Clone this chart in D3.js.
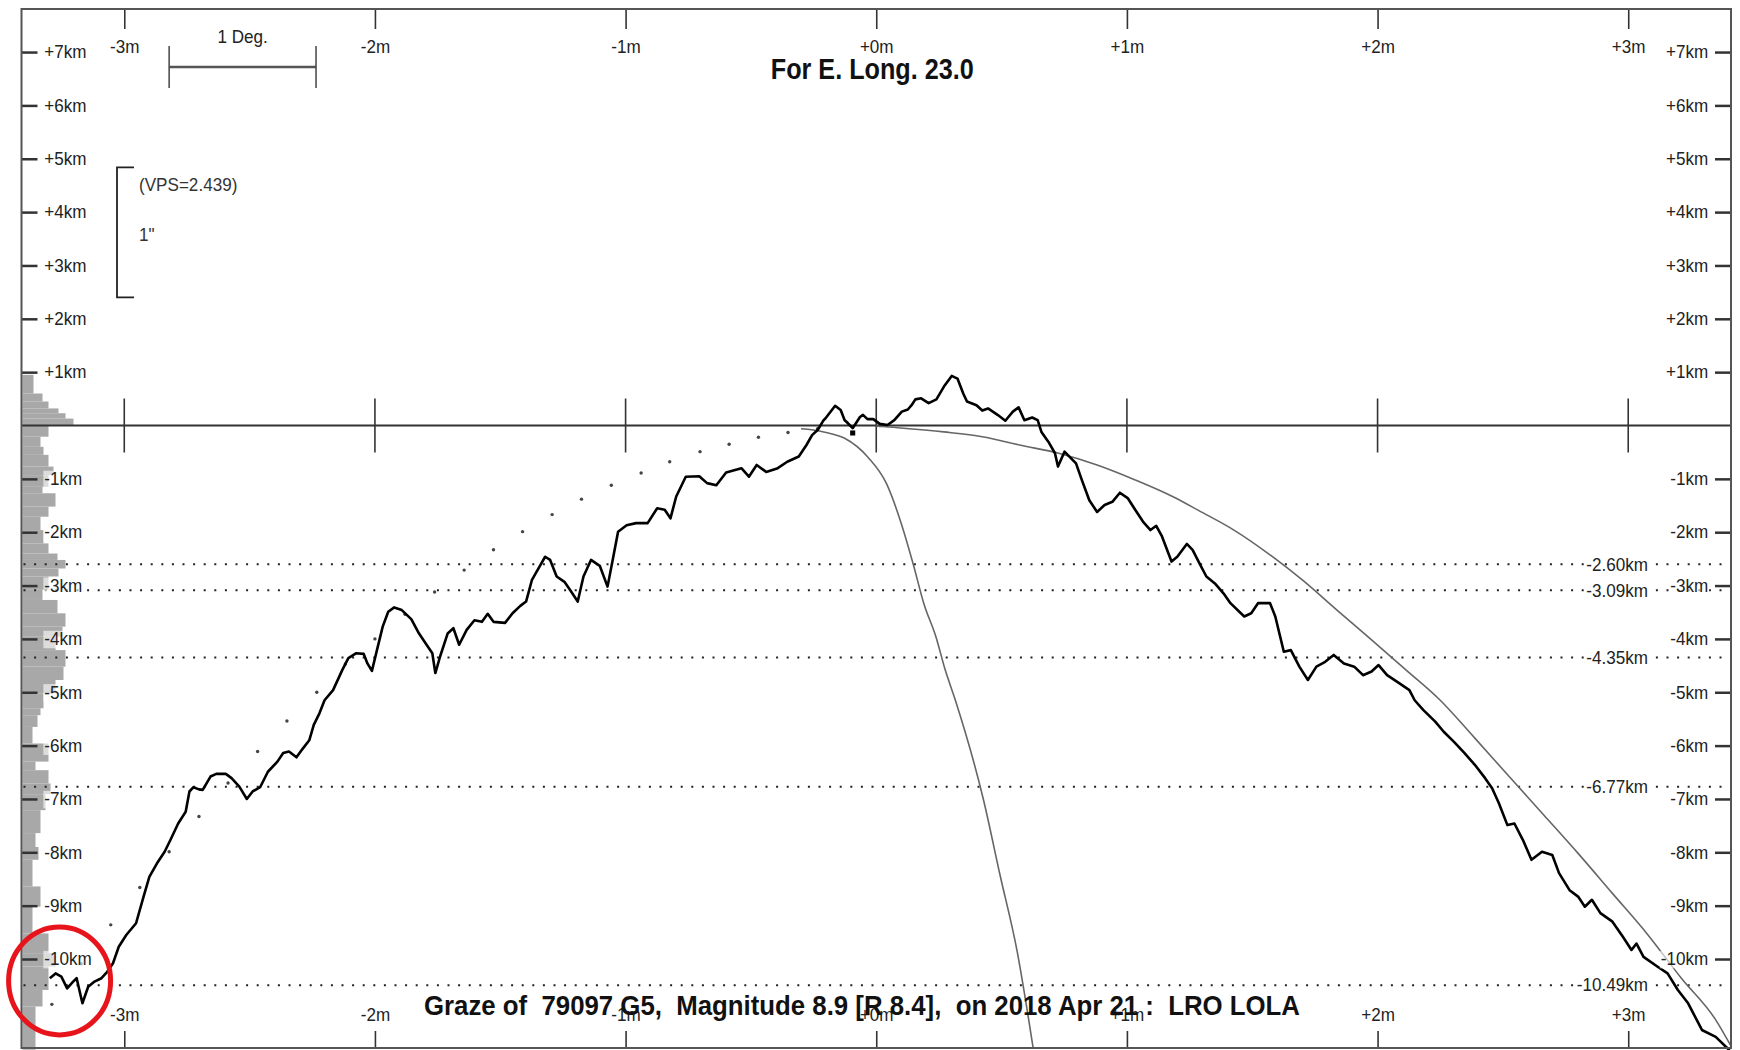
<!DOCTYPE html>
<html>
<head>
<meta charset="utf-8">
<script src="https://cdnjs.cloudflare.com/ajax/libs/d3/7.8.5/d3.min.js"></script>
<style>
  html, body { margin: 0; padding: 0; background: #fff; }
  svg { display: block; font-family: "Liberation Sans", Arial, sans-serif; }
  text { white-space: pre; }
</style>
</head>
<body>
<div id="graph"></div>
<script>
"use strict";

// x = minutes from central time, y = km relative to the mean limb

// LRO LOLA limb profile (black line)
var profile = [
    [-3.297,-10.36],[-3.274,-10.27],[-3.251,-10.33],[-3.228,-10.55],[-3.205,-10.43],[-3.190,-10.36],[-3.167,-10.83],
    [-3.144,-10.52],[-3.121,-10.43],[-3.091,-10.36],[-3.068,-10.24],[-3.045,-10.08],[-3.022,-9.77],[-2.992,-9.55],
    [-2.953,-9.33],[-2.923,-8.83],[-2.900,-8.46],[-2.870,-8.21],[-2.839,-7.99],[-2.816,-7.77],[-2.785,-7.46],
    [-2.755,-7.24],[-2.740,-6.86],[-2.724,-6.78],[-2.702,-6.82],[-2.687,-6.83],[-2.656,-6.58],[-2.633,-6.53],
    [-2.595,-6.53],[-2.572,-6.61],[-2.541,-6.77],[-2.511,-7.00],[-2.488,-6.86],[-2.458,-6.78],[-2.427,-6.49],
    [-2.389,-6.30],[-2.366,-6.14],[-2.343,-6.11],[-2.313,-6.22],[-2.290,-6.07],[-2.262,-5.90],[-2.244,-5.61],
    [-2.221,-5.39],[-2.201,-5.15],[-2.167,-4.96],[-2.130,-4.58],[-2.106,-4.36],[-2.076,-4.27],[-2.045,-4.28],
    [-2.030,-4.46],[-2.012,-4.60],[-1.992,-4.21],[-1.969,-3.77],[-1.947,-3.49],[-1.923,-3.41],[-1.893,-3.46],
    [-1.855,-3.63],[-1.824,-3.90],[-1.794,-4.11],[-1.771,-4.27],[-1.759,-4.64],[-1.740,-4.33],[-1.710,-3.90],
    [-1.687,-3.80],[-1.664,-4.11],[-1.634,-3.83],[-1.603,-3.65],[-1.573,-3.68],[-1.550,-3.53],[-1.527,-3.68],
    [-1.481,-3.70],[-1.451,-3.52],[-1.420,-3.38],[-1.397,-3.30],[-1.374,-2.90],[-1.344,-2.65],[-1.321,-2.46],
    [-1.301,-2.52],[-1.275,-2.83],[-1.244,-2.93],[-1.222,-3.08],[-1.191,-3.30],[-1.168,-2.83],[-1.138,-2.52],
    [-1.103,-2.63],[-1.072,-3.02],[-1.049,-2.46],[-1.030,-1.99],[-0.996,-1.87],[-0.958,-1.83],[-0.912,-1.83],
    [-0.874,-1.55],[-0.844,-1.58],[-0.821,-1.74],[-0.798,-1.33],[-0.760,-0.96],[-0.706,-0.95],[-0.675,-1.08],
    [-0.638,-1.12],[-0.599,-0.88],[-0.538,-0.80],[-0.508,-0.96],[-0.477,-0.74],[-0.439,-0.87],[-0.393,-0.80],
    [-0.355,-0.68],[-0.309,-0.58],[-0.279,-0.37],[-0.256,-0.18],[-0.233,-0.08],[-0.210,0.10],[-0.203,0.13],
    [-0.164,0.37],[-0.142,0.29],[-0.126,0.10],[-0.119,0.07],[-0.094,-0.05],[-0.065,0.16],[-0.053,0.20],
    [-0.035,0.12],[-0.012,0.12],[0.014,0.03],[0.045,0.01],[0.072,0.10],[0.102,0.26],[0.126,0.30],[0.141,0.38],
    [0.156,0.49],[0.179,0.51],[0.209,0.42],[0.240,0.49],[0.270,0.73],[0.301,0.93],[0.324,0.88],[0.347,0.60],
    [0.362,0.45],[0.400,0.38],[0.423,0.28],[0.446,0.32],[0.484,0.20],[0.515,0.09],[0.545,0.26],[0.568,0.34],
    [0.591,0.10],[0.622,0.15],[0.644,0.10],[0.659,-0.12],[0.690,-0.33],[0.713,-0.52],[0.725,-0.77],[0.751,-0.49],
    [0.797,-0.71],[0.820,-1.02],[0.850,-1.40],[0.881,-1.62],[0.911,-1.49],[0.942,-1.43],[0.972,-1.26],
    [1.003,-1.36],[1.033,-1.58],[1.064,-1.80],[1.094,-1.96],[1.117,-1.88],[1.140,-2.08],[1.178,-2.55],
    [1.201,-2.46],[1.239,-2.22],[1.262,-2.33],[1.289,-2.58],[1.317,-2.83],[1.351,-2.96],[1.386,-3.15],
    [1.413,-3.33],[1.468,-3.58],[1.496,-3.52],[1.523,-3.33],[1.571,-3.33],[1.592,-3.58],[1.626,-4.24],
    [1.654,-4.21],[1.688,-4.52],[1.722,-4.77],[1.756,-4.52],[1.791,-4.43],[1.825,-4.30],[1.866,-4.46],
    [1.907,-4.52],[1.942,-4.68],[1.976,-4.61],[2.004,-4.49],[2.038,-4.68],[2.086,-4.83],[2.127,-4.96],
    [2.148,-5.15],[2.182,-5.33],[2.230,-5.55],[2.264,-5.74],[2.305,-5.93],[2.347,-6.14],[2.388,-6.36],
    [2.429,-6.61],[2.457,-6.80],[2.484,-7.08],[2.518,-7.49],[2.546,-7.46],[2.580,-7.77],[2.614,-8.14],
    [2.656,-7.99],[2.697,-8.05],[2.724,-8.39],[2.766,-8.71],[2.800,-8.83],[2.827,-9.02],[2.855,-8.89],
    [2.889,-9.14],[2.937,-9.30],[2.978,-9.58],[3.013,-9.83],[3.033,-9.71],[3.061,-9.96],[3.116,-10.14],
    [3.157,-10.27],[3.198,-10.58],[3.239,-10.83],[3.294,-11.33],[3.349,-11.46],[3.404,-11.71]
];

// sparse dotted profile (grey points)
var dotProfile = [
    [-3.289,-10.85],[-3.172,-10.09],[-3.054,-9.36],[-2.938,-8.66],[-2.821,-7.99],[-2.702,-7.33],[-2.586,-6.70],
    [-2.468,-6.11],[-2.351,-5.54],[-2.232,-5.00],[-2.118,-4.47],[-2.000,-4.00],[-1.880,-3.54],[-1.762,-3.12],
    [-1.644,-2.71],[-1.527,-2.33],[-1.411,-1.99],[-1.293,-1.67],[-1.176,-1.38],[-1.057,-1.12],[-0.938,-0.89],
    [-0.824,-0.68],[-0.703,-0.49],[-0.587,-0.35],[-0.470,-0.22],[-0.352,-0.13],[-0.234,-0.06]
];

// thin grey curves
var curveSteep = [
    [-0.300,-0.06],[-0.257,-0.08],[-0.200,-0.13],[-0.126,-0.24],[-0.034,-0.59],[0.041,-1.09],[0.100,-1.84],
    [0.147,-2.59],[0.190,-3.34],[0.238,-3.96],[0.275,-4.58],[0.315,-5.14],[0.428,-7.02],[0.494,-8.43],
    [0.561,-9.83],[0.626,-11.67]
];
var curveGentle = [
    [0.000,-0.01],[0.026,-0.02],[0.270,-0.12],[0.423,-0.21],[0.576,-0.37],[0.728,-0.52],[0.881,-0.74],
    [1.033,-1.02],[1.186,-1.34],[1.289,-1.60],[1.427,-1.96],[1.564,-2.40],[1.701,-2.90],[1.838,-3.46],
    [1.976,-4.02],[2.113,-4.58],[2.250,-5.15],[2.388,-5.86],[2.525,-6.58],[2.663,-7.30],[2.800,-8.02],
    [2.937,-8.77],[3.074,-9.52],[3.212,-10.36],[3.349,-11.14],[3.411,-11.64]
];

var starMarker = [[-0.094, -0.14]];

// height histogram on the left edge: [top km, bottom km, count]
var histBins = [
    [0.95,0.60,11],[0.60,0.45,20],[0.45,0.32,26],[0.32,0.23,36],[0.23,0.13,43],[0.13,0.00,51],
    [0.00,-0.21,26],[-0.21,-0.40,18],[-0.40,-0.55,21],[-0.55,-0.77,26],[-0.77,-0.93,31],[-0.93,-1.15,26],
    [-1.15,-1.27,20],[-1.27,-1.52,33],[-1.52,-1.71,26],[-1.71,-1.96,18],[-1.96,-2.21,21],[-2.21,-2.40,26],
    [-2.40,-2.52,35],[-2.52,-2.68,43],[-2.68,-2.83,36],[-2.83,-3.08,26],[-3.08,-3.27,20],[-3.27,-3.52,35],
    [-3.52,-3.77,43],[-3.77,-3.96,40],[-3.96,-4.21,33],[-4.21,-4.52,43],[-4.52,-4.77,41],[-4.77,-5.02,33],
    [-5.02,-5.30,21],[-5.30,-5.43,18],[-5.43,-5.65,15],[-5.65,-5.96,10],[-5.96,-6.30,26],[-6.30,-6.46,13],
    [-6.46,-6.71,26],[-6.71,-6.91,28],[-6.91,-7.21,23],[-7.21,-7.64,18],[-7.64,-7.90,13],[-7.90,-8.14,16],
    [-8.14,-8.64,10],[-8.64,-9.02,18],[-9.02,-9.52,10],[-9.52,-9.89,26],[-9.89,-10.14,33],[-10.14,-10.58,26],
    [-10.58,-10.89,20],[-10.89,-11.70,13]
];

var limitLines = [-2.60, -3.09, -4.35, -6.77, -10.49];
var minuteTicks = [-3, -2, -1, 0, 1, 2, 3];
var kmTicks = [7, 6, 5, 4, 3, 2, 1, -1, -2, -3, -4, -5, -6, -7, -8, -9, -10];

var degreeBar = [-2.821, -2.235];
var vps = 2.439;
var vpsTop = 4.84;
var highlight = [-3.258, -10.41];

var titleTop = "For E. Long. 23.0";
var titleBottom = "Graze of  79097 G5,  Magnitude 8.9 [R 8.4],  on 2018 Apr 21 :  LRO LOLA";

var width = 1740, height = 1050;
var frame = {left: 21.5, top: 9, right: 1731, bottom: 1048};

var x = d3.scaleLinear().domain([-3.41, 3.41]).range([frame.left, frame.right]);
var y = d3.scaleLinear().domain([7.807, -11.668]).range([frame.top, frame.bottom]);
var hx = d3.scaleLinear().domain([0, 100]).range([frame.left + 1, frame.left + 101]);

var svg = d3.select("#graph").append("svg")
    .attr("width", width)
    .attr("height", height);

svg.append("rect").attr("width", width).attr("height", height).attr("fill", "#fff");

// histogram
svg.append("g").selectAll("rect")
    .data(histBins)
    .enter().append("rect")
    .attr("x", hx(0))
    .attr("y", function (d) { return y(d[0]); })
    .attr("width", function (d) { return hx(d[2]) - hx(0); })
    .attr("height", function (d) { return y(d[1]) - y(d[0]); })
    .attr("fill", "#a8a8a8");

// dotted limit lines
svg.append("g").selectAll("line")
    .data(limitLines)
    .enter().append("line")
    .attr("x1", frame.left + 2).attr("x2", frame.right - 2)
    .attr("y1", function (d) { return y(d); })
    .attr("y2", function (d) { return y(d); })
    .attr("stroke", "#222")
    .attr("stroke-width", 2)
    .attr("stroke-dasharray", "2,8.6");

// zero line and minute ticks across it
svg.append("line")
    .attr("x1", frame.left).attr("x2", frame.right)
    .attr("y1", y(0)).attr("y2", y(0))
    .attr("stroke", "#333").attr("stroke-width", 2.2);

svg.append("g").selectAll("line")
    .data(minuteTicks)
    .enter().append("line")
    .attr("x1", function (d) { return x(d); })
    .attr("x2", function (d) { return x(d); })
    .attr("y1", y(0) - 27).attr("y2", y(0) + 27)
    .attr("stroke", "#333").attr("stroke-width", 1.6);

var line = d3.line()
    .x(function (d) { return x(d[0]); })
    .y(function (d) { return y(d[1]); });

var smooth = d3.line()
    .x(function (d) { return x(d[0]); })
    .y(function (d) { return y(d[1]); })
    .curve(d3.curveMonotoneX);

svg.append("path").datum(curveSteep)
    .attr("d", smooth).attr("fill", "none")
    .attr("stroke", "#666").attr("stroke-width", 1.6);

svg.append("path").datum(curveGentle)
    .attr("d", smooth).attr("fill", "none")
    .attr("stroke", "#666").attr("stroke-width", 1.6);

svg.append("g").selectAll("circle")
    .data(dotProfile)
    .enter().append("circle")
    .attr("cx", function (d) { return x(d[0]); })
    .attr("cy", function (d) { return y(d[1]); })
    .attr("r", 1.7)
    .attr("fill", "#444");

svg.append("path").datum(profile)
    .attr("d", line).attr("fill", "none")
    .attr("stroke", "#000").attr("stroke-width", 2.6)
    .attr("stroke-linejoin", "round");

svg.append("g").selectAll("path")
    .data(starMarker)
    .enter().append("path")
    .attr("d", d3.symbol().type(d3.symbolSquare).size(26))
    .attr("transform", function (d) { return "translate(" + x(d[0]) + "," + y(d[1]) + ")"; })
    .attr("fill", "#000");

// axes
function addTextBg(sel, opacity) {
    sel.each(function () {
        var node = this, b = node.getBBox();
        d3.select(node.parentNode).insert("rect", function () { return node; })
            .attr("x", b.x - 1).attr("y", b.y + 2)
            .attr("width", b.width + 2).attr("height", b.height - 3)
            .attr("transform", d3.select(node).attr("transform"))
            .attr("fill", "#fff").attr("fill-opacity", opacity);
    });
}

function axisStyle(g) {
    g.select(".domain").remove();
    g.attr("font-family", null).attr("font-size", null);
    g.selectAll(".tick line").attr("stroke", "#333").attr("stroke-width", 1.6);
    g.selectAll(".tick text")
        .attr("fill", "#222")
        .attr("font-size", 18)
        .attr("transform", "scale(0.95,1)");
}

var fmtKm = function (d) { return (d > 0 ? "+" : "") + d + "km"; };
var fmtMin = function (d) { return (d >= 0 ? "+" : "") + d + "m"; };

var gLeft = svg.append("g")
    .attr("transform", "translate(" + frame.left + ",0)")
    .call(d3.axisRight(y).tickValues(kmTicks).tickSize(16).tickPadding(8).tickFormat(fmtKm))
    .call(axisStyle);
gLeft.selectAll(".tick line").attr("stroke-width", 2.5);
addTextBg(gLeft.selectAll(".tick text"), 0.6);

var gRight = svg.append("g")
    .attr("transform", "translate(" + frame.right + ",0)")
    .call(d3.axisLeft(y).tickValues(kmTicks).tickSize(16).tickPadding(8).tickFormat(fmtKm))
    .call(axisStyle);
gRight.selectAll(".tick line").attr("stroke-width", 2.5);
addTextBg(gRight.selectAll(".tick text"), 0.6);

svg.append("g")
    .attr("transform", "translate(0," + frame.top + ")")
    .call(d3.axisBottom(x).tickValues(minuteTicks).tickSize(20).tickPadding(11).tickFormat(fmtMin))
    .call(axisStyle);

svg.append("g")
    .attr("transform", "translate(0," + frame.bottom + ")")
    .call(d3.axisTop(x).tickValues(minuteTicks).tickSize(17).tickPadding(10).tickFormat(fmtMin))
    .call(axisStyle);

// labels on the limit lines
var limitLabels = svg.append("g").selectAll("text")
    .data(limitLines)
    .enter().append("text")
    .attr("transform", function (d) { return "translate(" + 1648 + "," + y(d) + ") scale(0.95,1)"; })
    .attr("dy", "0.35em")
    .attr("text-anchor", "end")
    .attr("font-size", 18)
    .attr("fill", "#222")
    .text(function (d) { return d.toFixed(2) + "km"; });
addTextBg(limitLabels, 1);

// 1 degree scale bar
var bar = svg.append("g").attr("stroke", "#444");
bar.append("line")
    .attr("x1", x(degreeBar[0])).attr("x2", x(degreeBar[1]))
    .attr("y1", 67).attr("y2", 67)
    .attr("stroke-width", 2.6).attr("stroke", "#555");
bar.selectAll("line.end")
    .data(degreeBar)
    .enter().append("line")
    .attr("class", "end")
    .attr("x1", function (d) { return x(d); })
    .attr("x2", function (d) { return x(d); })
    .attr("y1", 46).attr("y2", 88)
    .attr("stroke-width", 1.5);
svg.append("text")
    .attr("transform", "translate(" + x((degreeBar[0] + degreeBar[1]) / 2) + ",43) scale(0.95,1)")
    .attr("text-anchor", "middle")
    .attr("font-size", 18).attr("fill", "#222")
    .text("1 Deg.");

// vertical scale bracket
var bx = 117;
svg.append("path")
    .attr("d", "M" + (bx + 17) + "," + y(vpsTop) + "H" + bx + "V" + y(vpsTop - vps) + "H" + (bx + 17))
    .attr("fill", "none").attr("stroke", "#222").attr("stroke-width", 1.8);
svg.append("text")
    .attr("transform", "translate(" + (bx + 22) + "," + (y(vpsTop) + 24) + ") scale(0.95,1)")
    .attr("font-size", 18).attr("fill", "#333")
    .text("(VPS=" + vps + ")");
svg.append("text")
    .attr("transform", "translate(" + (bx + 22) + "," + (y(vpsTop) + 74) + ") scale(0.95,1)")
    .attr("font-size", 18).attr("fill", "#333")
    .text("1\"");

// titles
svg.append("text")
    .attr("x", x(0) - 4).attr("y", 79)
    .attr("text-anchor", "middle")
    .attr("font-size", 30).attr("font-weight", "bold").attr("fill", "#111")
    .attr("textLength", 203).attr("lengthAdjust", "spacingAndGlyphs")
    .text(titleTop);

svg.append("text")
    .attr("x", 424).attr("y", 1015)
    .attr("font-size", 28).attr("font-weight", "bold").attr("fill", "#111")
    .attr("textLength", 876).attr("lengthAdjust", "spacingAndGlyphs")
    .text(titleBottom);

// frame
svg.append("rect")
    .attr("x", frame.left).attr("y", frame.top)
    .attr("width", frame.right - frame.left)
    .attr("height", frame.bottom - frame.top)
    .attr("fill", "none").attr("stroke", "#555").attr("stroke-width", 2);

// red highlight ring
svg.append("ellipse")
    .attr("cx", x(highlight[0])).attr("cy", y(highlight[1]))
    .attr("rx", 51).attr("ry", 54)
    .attr("fill", "none").attr("stroke", "#e8141b").attr("stroke-width", 5);
</script>
</body>
</html>
